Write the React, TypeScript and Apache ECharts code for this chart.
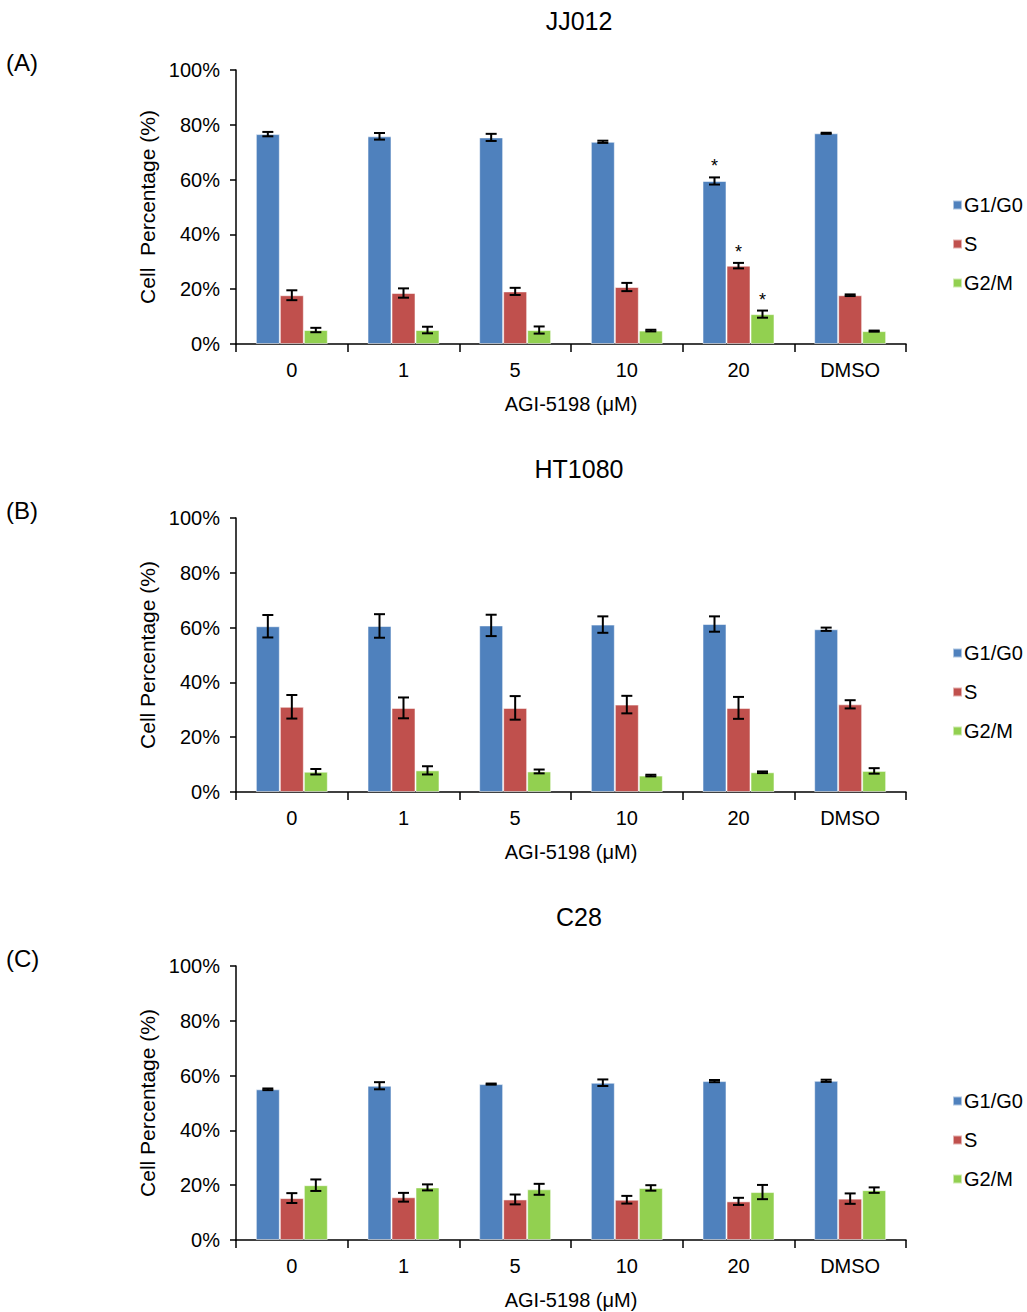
import React, { useEffect, useRef } from "react";
import * as echarts from "echarts";

const categories = ["0", "1", "5", "10", "20", "DMSO"];
const phases = ["G1/G0", "S", "G2/M"];
const yTicks = [0, 20, 40, 60, 80, 100];

// Panel A: JJ012
const jjG1 = [76.6, 75.8, 75.4, 73.8, 59.5, 76.9];
const jjG1Err = [0.8, 1.2, 1.3, 0.4, 1.3, 0.2];
const jjS = [17.8, 18.6, 19.2, 20.8, 28.6, 17.8];
const jjSErr = [1.8, 1.7, 1.3, 1.5, 1.0, 0.3];
const jjG2 = [5.1, 5.1, 5.1, 4.9, 10.9, 4.7];
const jjG2Err = [0.8, 1.2, 1.3, 0.3, 1.3, 0.2];
const jjStars = [false, false, false, false, true, false];

// Panel B: HT1080
const htG1 = [60.5, 60.6, 60.8, 61.1, 61.3, 59.4];
const htG1Err = [4.1, 4.3, 3.9, 3.0, 2.8, 0.6];
const htS = [31.1, 30.7, 30.7, 31.9, 30.7, 32.0];
const htSErr = [4.3, 3.8, 4.3, 3.2, 4.0, 1.5];
const htG2 = [7.4, 7.9, 7.5, 6.0, 7.2, 7.7];
const htG2Err = [1.0, 1.5, 0.7, 0.3, 0.3, 1.0];

// Panel C: C28
const cG1 = [55.0, 56.3, 56.9, 57.4, 58.0, 58.1];
const cG1Err = [0.3, 1.3, 0.2, 1.2, 0.4, 0.4];
const cS = [15.3, 15.6, 14.8, 14.7, 14.1, 15.1];
const cSErr = [1.8, 1.6, 1.8, 1.4, 1.3, 1.9];
const cG2 = [20.0, 19.2, 18.5, 19.0, 17.5, 18.2];
const cG2Err = [2.1, 1.1, 2.0, 1.0, 2.6, 1.0];

const noStars = [false, false, false, false, false, false];

const panels = [
  { title: "JJ012", tag: "(A)", yName: "Cell  Percentage (%)", values: [jjG1, jjS, jjG2], errs: [jjG1Err, jjSErr, jjG2Err], stars: jjStars },
  { title: "HT1080", tag: "(B)", yName: "Cell Percentage (%)", values: [htG1, htS, htG2], errs: [htG1Err, htSErr, htG2Err], stars: noStars },
  { title: "C28", tag: "(C)", yName: "Cell Percentage (%)", values: [cG1, cS, cG2], errs: [cG1Err, cSErr, cG2Err], stars: noStars },
];

const colors = ["#4F81BD", "#C0504D", "#92D050"];
const FONT = "Liberation Sans, Arial, sans-serif";

export default function App() {
  const ref = useRef<HTMLDivElement>(null);
  useEffect(() => {
    if (!ref.current) return;
    const chart = echarts.init(ref.current, null, { renderer: "svg" });
    const tops = [70, 518, 966];
    const gridH = 274;
    const gridLeft = 236;
    const gridW = 670;
    const barW = 24;

    const grids: any[] = [];
    const xAxes: any[] = [];
    const yAxes: any[] = [];
    const series: any[] = [];
    const legends: any[] = [];
    const graphics: any[] = [];

    panels.forEach((p, pi) => {
      const top = tops[pi];
      grids.push({ left: gridLeft, top, width: gridW, height: gridH, containLabel: false });
      xAxes.push({
        type: "category",
        gridIndex: pi,
        data: categories,
        name: "AGI-5198 (μM)",
        nameLocation: "middle",
        nameGap: 50,
        nameTextStyle: { color: "#000", fontSize: 20, fontFamily: FONT },
        axisLine: { lineStyle: { color: "#000", width: 1.5 } },
        axisTick: { show: true, length: 8, lineStyle: { color: "#000", width: 1.5 } },
        axisLabel: { color: "#000", fontSize: 20, fontFamily: FONT, margin: 16 },
      });
      yAxes.push({
        type: "value",
        gridIndex: pi,
        min: 0,
        max: 100,
        interval: 20,
        name: p.yName,
        nameLocation: "middle",
        nameGap: 76,
        nameTextStyle: { color: "#000", fontSize: 21, fontFamily: FONT },
        axisLine: { show: true, lineStyle: { color: "#000", width: 1.5 } },
        axisTick: { show: true, length: 6, lineStyle: { color: "#000", width: 1.5 } },
        axisLabel: {
          color: "#000",
          fontSize: 20,
          fontFamily: FONT,
          margin: 16,
          formatter: (v: number) => (yTicks.includes(v) ? v + "%" : ""),
        },
        splitLine: { show: false },
      });
      phases.forEach((ph, k) => {
        series.push({
          type: "bar",
          name: ph,
          xAxisIndex: pi,
          yAxisIndex: pi,
          data: p.values[k],
          barWidth: barW,
          barGap: "0%",
          itemStyle: { color: colors[k], borderColor: "rgba(255,255,255,0.55)", borderWidth: 1 },
          z: 2,
        });
      });
      phases.forEach((ph, k) => {
        const data = p.values[k].map((v, i) => [i, v, p.errs[k][i], p.stars[i] ? 1 : 0]);
        series.push({
          type: "custom",
          name: ph + " err",
          xAxisIndex: pi,
          yAxisIndex: pi,
          data,
          z: 5,
          silent: true,
          renderItem: (params: any, api: any) => {
            const xi = api.value(0);
            const v = api.value(1);
            const e = api.value(2);
            const star = api.value(3);
            const offset = (k - 1) * barW;
            const t = api.coord([xi, v + e]);
            const b = api.coord([xi, v - e]);
            const cx = t[0] + offset;
            const half = 5.5;
            const style = { stroke: "#000", lineWidth: 2 };
            const children: any[] = [
              { type: "line", shape: { x1: cx, y1: t[1], x2: cx, y2: b[1] }, style },
              { type: "line", shape: { x1: cx - half, y1: t[1], x2: cx + half, y2: t[1] }, style },
              { type: "line", shape: { x1: cx - half, y1: b[1], x2: cx + half, y2: b[1] }, style },
            ];
            if (star) {
              children.push({
                type: "text",
                style: {
                  text: "*",
                  x: cx,
                  y: t[1] - 2,
                  textAlign: "center",
                  textVerticalAlign: "bottom",
                  fill: "#000",
                  fontSize: 18,
                  fontFamily: FONT,
                },
              });
            }
            return { type: "group", children };
          },
        });
      });
      legends.push({
        data: phases,
        orient: "vertical",
        left: 947,
        top: top + 120,
        itemWidth: 9,
        itemHeight: 9,
        itemGap: 19,
        icon: "rect",
        selectedMode: false,
        textStyle: { color: "#000", fontSize: 20, fontFamily: FONT, padding: [0, 0, 0, -3] },
      });
      graphics.push({
        type: "text",
        style: { text: p.title, fontSize: 25, fontFamily: FONT, fill: "#000", x: 579, y: top - 49, textAlign: "center", textVerticalAlign: "middle" },
      });
      graphics.push({
        type: "text",
        style: { text: p.tag, fontSize: 24, fontFamily: FONT, fill: "#000", x: 6, y: top - 8, textAlign: "left", textVerticalAlign: "middle" },
      });
    });

    chart.setOption({
      animation: false,
      backgroundColor: "#fff",
      grid: grids,
      xAxis: xAxes,
      yAxis: yAxes,
      legend: legends,
      series,
      graphic: graphics,
    });
    return () => chart.dispose();
  }, []);
  return <div ref={ref} style={{ position: "absolute", left: 0, top: 0, width: 1027, height: 1312 }} />;
}
